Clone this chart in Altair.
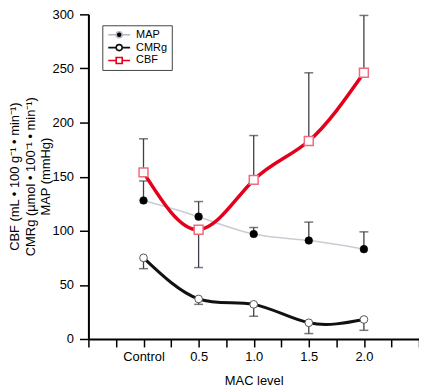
import altair as alt
import pandas as pd

# ---- data ----
mac_level = [0, 0.5, 1.0, 1.5, 2.0]          # 0 = "Control"
map_mean = [128, 113, 97, 91, 83]
map_bar_end = [146, 127, 103, 108, 99]
cmrg_mean = [75, 37, 32, 15, 18]
cmrg_bar_end = [65, 32, 21, 5, 8]
cbf_mean = [154, 101, 147, 183, 246]
cbf_bar_end = [185, 66, 188, 246, 299]
series_names = ["MAP", "CMRg", "CBF"]

rows = []
for name, means, ends in [("MAP", map_mean, map_bar_end),
                          ("CMRg", cmrg_mean, cmrg_bar_end),
                          ("CBF", cbf_mean, cbf_bar_end)]:
    for x, v, e in zip(mac_level, means, ends):
        rows.append({"series": name, "mac": x, "value": v, "bar": e})
df = pd.DataFrame(rows)

FONT = "Liberation Sans"

x_enc = alt.X(
    "mac:Q",
    scale=alt.Scale(domain=[-0.5, 2.5], nice=False, zero=False),
    axis=alt.Axis(
        title="MAC level",
        values=[-0.5, -0.25, 0, 0.25, 0.5, 0.75, 1.0, 1.25, 1.5, 1.75, 2.0, 2.25, 2.5],
        labelExpr="datum.value == 0 ? 'Control' : (datum.value >= 0.5 && datum.value <= 2 && round(datum.value * 2) == datum.value * 2) ? format(datum.value, '.1f') : ''",
        grid=False, domainColor="black", domainWidth=2, tickColor="black",
        tickWidth=1.5, tickSize=8, labelPadding=4, labelFont=FONT,
        labelFontSize=13, labelColor="black", labelFlush=False,
        titleFont=FONT, titleFontSize=13, titleFontWeight="normal",
        titleColor="black", titleBaseline="alphabetic", titleY=46,
    ),
)
y_enc = alt.Y(
    "value:Q",
    scale=alt.Scale(domain=[0, 300], nice=False),
    axis=alt.Axis(
        title=["CBF (mL • 100 g⁻¹ • min⁻¹)", "CMRg (µmol • 100⁻¹ • min⁻¹)", "MAP (mmHg)"],
        values=list(range(0, 301, 25)),
        labelExpr="datum.value % 50 == 0 ? datum.label : ''",
        grid=False, domainColor="black", domainWidth=2, tickColor="black",
        tickWidth=1.5, tickSize=9, labelPadding=6, labelFont=FONT,
        labelFontSize=13, labelColor="black",
        titleFont=FONT, titleFontSize=13, titleFontWeight="normal",
        titleColor="black", titleBaseline="alphabetic", titleAngle=-90,
        titleX=-70, titleY=163, titleLineHeight=15.5,
    ),
)

base = alt.Chart(df)

err_rule = base.mark_rule(color="#3c4048", strokeWidth=1.3).encode(
    x=x_enc, y=y_enc, y2="bar:Q")
err_cap = base.mark_tick(color="#3c4048", orient="horizontal", size=9, thickness=1.5).encode(
    x=x_enc, y=alt.Y("bar:Q"))

line_map = base.transform_filter("datum.series == 'MAP'").mark_line(
    interpolate="natural", color="#c9ccd4", strokeWidth=1.5).encode(x=x_enc, y=y_enc)
line_cmrg = base.transform_filter("datum.series == 'CMRg'").mark_line(
    interpolate="natural", color="#111111", strokeWidth=3).encode(x=x_enc, y=y_enc)
line_cbf = base.transform_filter("datum.series == 'CBF'").mark_line(
    interpolate="natural", color="#e3001b", strokeWidth=3.5).encode(x=x_enc, y=y_enc)

pt_map = base.transform_filter("datum.series == 'MAP'").mark_point(
    shape="circle", filled=True, fill="black", stroke="black", strokeWidth=0.5,
    size=60, opacity=1).encode(x=x_enc, y=y_enc)
pt_cmrg = base.transform_filter("datum.series == 'CMRg'").mark_point(
    shape="circle", filled=False, fill="white", stroke="#555555", strokeWidth=1,
    size=60, opacity=1).encode(x=x_enc, y=y_enc)
pt_cbf = base.transform_filter("datum.series == 'CBF'").mark_point(
    shape="square", filled=False, fill="white", stroke="#f06b80", strokeWidth=1.5,
    size=80, opacity=1).encode(x=x_enc, y=y_enc)

# legend symbols: line with a marker in the middle (custom paths)
p_map = "M-2,0H-0.55M0.55,0H2M0.55,0A0.55,0.55,0,1,1,-0.55,0A0.55,0.55,0,1,1,0.55,0Z"
p_cmrg = p_map
p_cbf = "M-2,0H-0.55M0.55,0H2M-0.55,-0.55H0.55V0.55H-0.55Z"

leg = alt.Legend(
    orient="none", legendX=14, legendY=11, title=None, padding=4,
    strokeColor="#444444", fillColor="white", labelFont=FONT,
    labelFontSize=11, labelColor="black", rowPadding=1, symbolSize=121,
    symbolStrokeWidth=1.6, symbolOffset=6.5, labelOffset=10.5, clipHeight=11,
)
legend_layer = base.transform_filter("false").mark_point(
    size=121, strokeWidth=1.6, opacity=1, filled=True).encode(
    x=x_enc, y=y_enc,
    shape=alt.Shape("series:N", scale=alt.Scale(domain=series_names, range=[p_map, p_cmrg, p_cbf]), legend=leg),
    stroke=alt.Stroke("series:N", scale=alt.Scale(domain=series_names, range=["#b5b8c0", "#111111", "#e3001b"]), legend=leg),
    fill=alt.Fill("series:N", scale=alt.Scale(domain=series_names, range=["#000000", "#ffffff", "#ffffff"]), legend=leg),
)

chart = alt.layer(
    err_rule, err_cap, line_map, line_cmrg, line_cbf, pt_map, pt_cmrg, pt_cbf, legend_layer
).properties(
    width=333, height=327,
    autosize=alt.AutoSizeParams(type="none"),
    padding={"left": 81, "top": 5, "right": 0, "bottom": 52},
).configure_view(stroke=None)

chart.save("out.html", embed_options={"renderer": "svg", "actions": False})
